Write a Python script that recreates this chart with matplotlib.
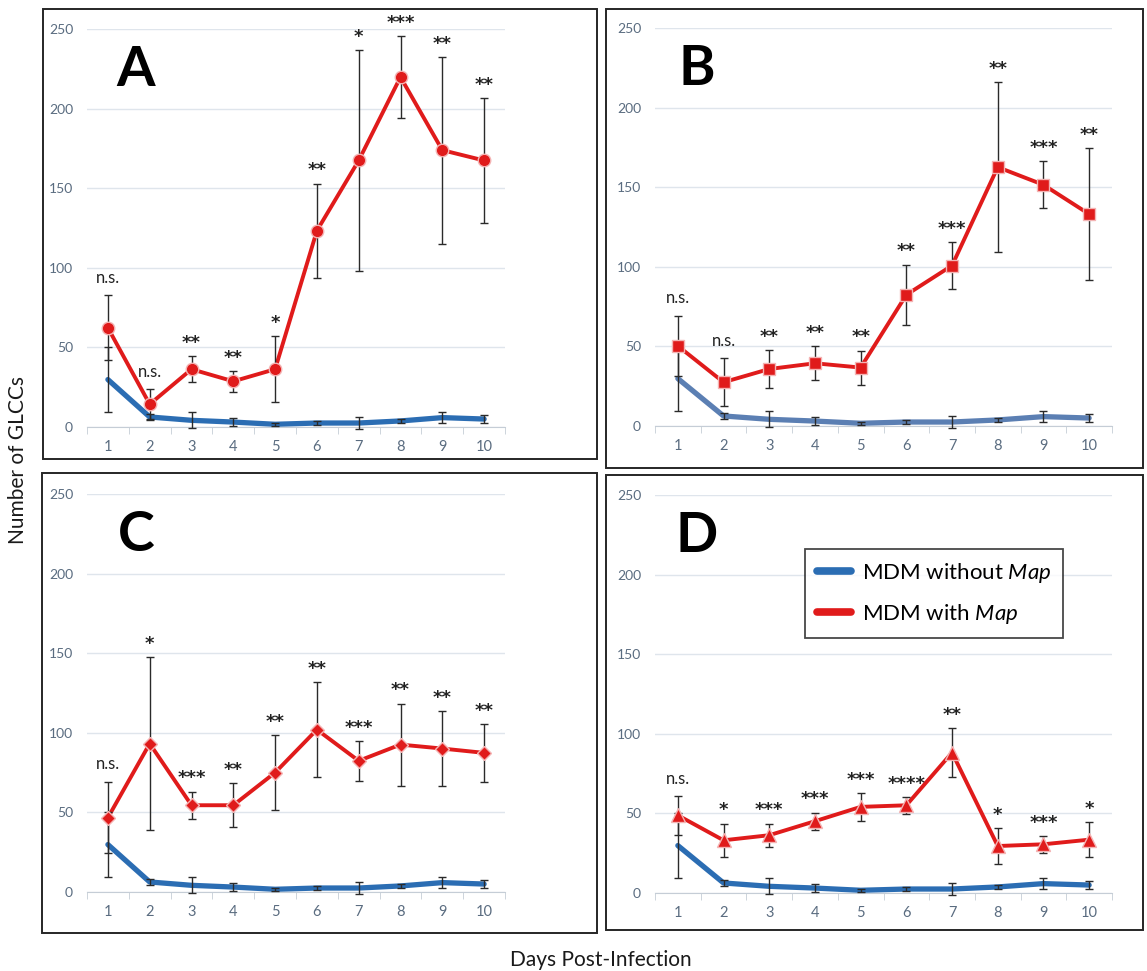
import matplotlib
matplotlib.use('Agg')
import matplotlib.pyplot as plt
from matplotlib.patches import Rectangle
import numpy as np

plt.rcParams['font.family'] = ['Lato', 'DejaVu Sans']
plt.rcParams['mathtext.fontset'] = 'custom'
plt.rcParams['mathtext.it'] = 'Lato:italic'
plt.rcParams['mathtext.rm'] = 'Lato'

days = [1, 2, 3, 4, 5, 6, 7, 8, 9, 10]

# MDM without Map (same control series in every panel)
blue_mean = [29.8, 6.3, 4.2, 3.1, 1.7, 2.5, 2.5, 3.8, 5.9, 5.0]
blue_err = [20.4, 2.0, 5.0, 2.5, 1.0, 1.0, 3.5, 1.0, 3.5, 2.5]

# MDM with Map
a_mean = [62.3, 14.3, 36.3, 28.7, 36.3, 123.3, 167.4, 219.8, 173.9, 167.4]
a_err = [20.5, 9.4, 8.3, 6.6, 20.9, 29.6, 69.5, 25.7, 58.7, 39.0]
a_sig = ['n.s.', 'n.s.', '**', '**', '*', '**', '*', '***', '**', '**']

b_mean = [50.3, 27.5, 35.8, 39.4, 36.7, 82.4, 100.8, 162.6, 151.5, 133.1]
b_err = [18.9, 15.0, 11.7, 10.8, 10.7, 19.0, 14.7, 53.5, 14.7, 41.3]
b_sig = ['n.s.', 'n.s.', '**', '**', '**', '**', '***', '**', '***', '**']

c_mean = [46.7, 93.2, 54.5, 54.5, 75.0, 102.0, 82.4, 92.6, 90.1, 87.4]
c_err = [22.5, 54.2, 8.6, 13.8, 23.5, 30.0, 12.6, 25.8, 23.3, 18.2]
c_sig = ['n.s.', '*', '***', '**', '**', '**', '***', '**', '**', '**']

d_mean = [48.8, 33.1, 36.3, 45.1, 54.1, 55.1, 88.2, 29.5, 30.6, 33.5]
d_err = [12.2, 10.5, 7.3, 5.4, 8.8, 5.3, 15.5, 11.4, 5.2, 11.1]
d_sig = ['n.s.', '*', '***', '***', '***', '****', '**', '*', '***', '*']

letters = ['A', 'B', 'C', 'D']
markers = ['o', 's', 'D', '^']
marker_sizes = [9, 8.5, 7, 9.5]

RED = '#E01B1B'
BLUES = ['#2B6DB3', '#5B7FB3', '#2B6DB3', '#2B6DB3']
TICK_COLOR = '#5A6C80'
GRID_COLOR = '#DFE5EC'

W, H = 1147, 971


def px_box(x0, y0, x1, y1):
    # pixel box (top-left origin) -> figure fraction rect
    return [x0 / W, 1 - y1 / H, (x1 - x0) / W, (y1 - y0) / H]


fig = plt.figure(figsize=(11.47, 9.71), dpi=100)

axes_px = [(87, 29, 505, 427), (655, 28, 1112, 426),
           (87, 494, 505, 892), (655, 495, 1112, 893)]
frames_px = [(43, 9, 597, 459), (606, 9, 1143, 468),
             (42, 473, 597, 933), (606, 475, 1143, 930)]
letter_x = [0.117, 0.092, 0.117, 0.092]

series = [(a_mean, a_err, a_sig), (b_mean, b_err, b_sig),
          (c_mean, c_err, c_sig), (d_mean, d_err, d_sig)]

for i, (mean, err, sig) in enumerate(series):
    ax = fig.add_axes(px_box(*axes_px[i]))
    fig.patches.append(Rectangle((frames_px[i][0] / W, 1 - frames_px[i][3] / H),
                                 (frames_px[i][2] - frames_px[i][0]) / W,
                                 (frames_px[i][3] - frames_px[i][1]) / H,
                                 transform=fig.transFigure, fill=False,
                                 edgecolor='#262626', linewidth=1.4))

    ax.set_xlim(0.5, 10.5)
    ax.set_ylim(0, 250)
    ax.set_yticks(range(0, 251, 50))
    ax.set_xticks(days)
    ax.set_xticks(np.arange(0.5, 11, 1), minor=True)
    ax.grid(axis='y', color=GRID_COLOR, linewidth=1)
    ax.set_axisbelow(True)
    for s in ['top', 'right', 'left']:
        ax.spines[s].set_visible(False)
    ax.spines['bottom'].set_color('#C5CDD6')
    ax.tick_params(axis='y', length=0, pad=10, labelsize=10, labelcolor=TICK_COLOR)
    ax.tick_params(axis='x', which='major', length=0, pad=9, labelsize=10.5, labelcolor=TICK_COLOR)
    ax.tick_params(axis='x', which='minor', length=5, color='#C5CDD6')

    ax.plot(days, blue_mean, color=BLUES[i], linewidth=3.8, zorder=2,
            solid_capstyle='round', solid_joinstyle='round', clip_on=False)
    ax.errorbar(days, blue_mean, yerr=blue_err, fmt='none', ecolor='#2A2A2A',
                elinewidth=1, capsize=3.2, capthick=1, zorder=4, clip_on=False)

    ax.plot(days, mean, color=RED, linewidth=2.8, zorder=3,
            solid_joinstyle='round')
    ax.errorbar(days, mean, yerr=err, fmt='none', ecolor='#2A2A2A',
                elinewidth=1, capsize=3.2, capthick=1, zorder=4)
    ax.plot(days, mean, linestyle='none', marker=markers[i], ms=marker_sizes[i],
            mfc=RED, mec='#F4B4B4', mew=1, zorder=5)

    for d, m, e, s in zip(days, mean, err, sig):
        if s == 'n.s.':
            ax.annotate(s, (d, m + e), xytext=(0, 12.5), textcoords='offset points',
                        ha='center', va='center', fontsize=12, color='#222222',
                        annotation_clip=False)
        else:
            ax.annotate(s, (d, m + e), xytext=(0, 9.5), textcoords='offset points',
                        ha='center', va='center', fontsize=13, color='#222222',
                        family='DejaVu Sans', fontweight='bold', annotation_clip=False)

    ax.text(letter_x[i], 0.857, letters[i], transform=ax.transAxes, fontsize=40,
            fontweight='bold', ha='center', va='baseline', color='black')

    if i == 3:
        lines = [ax.plot([], [], color=BLUES[0], linewidth=5.5, solid_capstyle='round')[0],
                 ax.plot([], [], color=RED, linewidth=5.5, solid_capstyle='round')[0]]
        leg = ax.legend(lines, [r'MDM without $\mathit{Map}$', r'MDM with $\mathit{Map}$'],
                        loc='upper left', bbox_to_anchor=(805 / W, 1 - 549 / H),
                        bbox_transform=fig.transFigure, fontsize=16, frameon=True,
                        fancybox=False, handlelength=1.5, handletextpad=0.5,
                        labelspacing=0.75, borderpad=0.55, borderaxespad=0)
        leg.get_frame().set_edgecolor('#1A1A1A')
        leg.get_frame().set_linewidth(1.3)

fig.text(18 / W, 1 - 460 / H, 'Number of GLCCs', rotation=90, ha='center',
         va='center', fontsize=15, color='#1A1A1A')
fig.text(601 / W, 1 - 960 / H, 'Days Post-Infection', ha='center', va='center',
         fontsize=15, color='#1A1A1A')

fig.savefig('out.png', dpi=100, facecolor='white')
